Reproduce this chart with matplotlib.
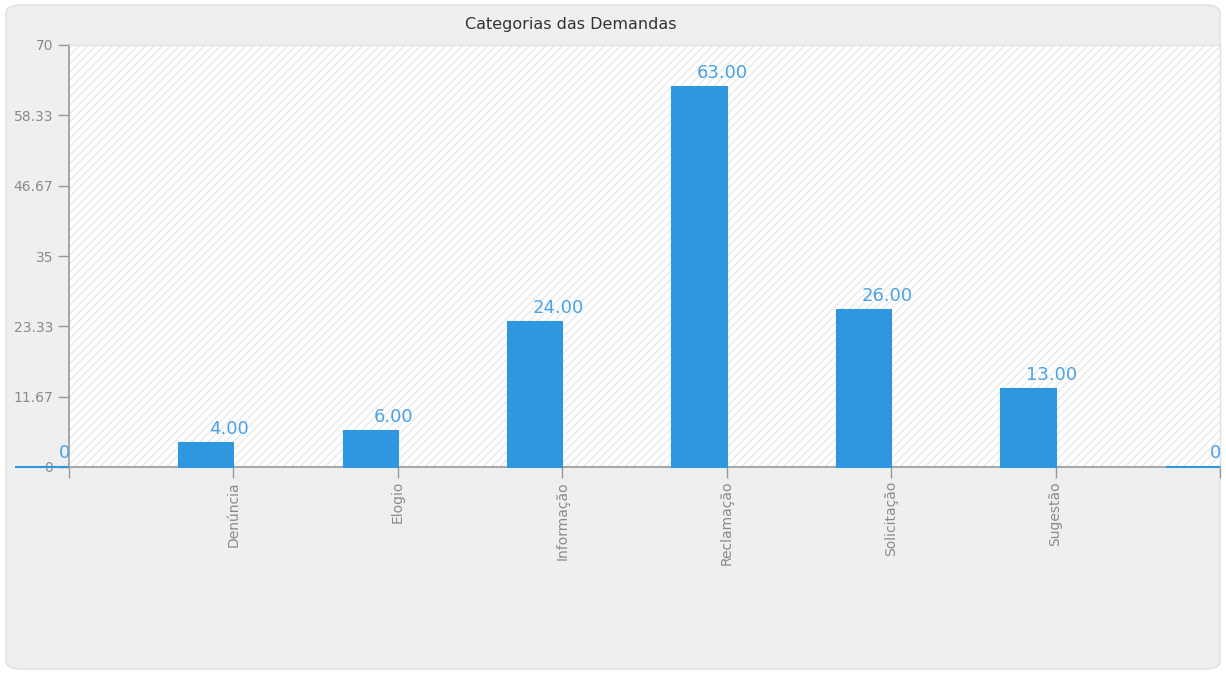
import matplotlib.pyplot as plt
from matplotlib.patches import FancyBboxPatch, Rectangle

# -------------------------------
# DATA
# -------------------------------
categories = ["", "Denúncia", "Elogio", "Informação", "Reclamação",
              "Solicitação", "Sugestão", ""]
values = [0, 4, 6, 24, 63, 26, 13, 0]
value_labels = ["0", "4.00", "6.00", "24.00", "63.00", "26.00", "13.00", "0"]

y_ticks = [0, 11.67, 23.33, 35, 46.67, 58.33, 70]
y_tick_labels = ["0", "11.67", "23.33", "35", "46.67", "58.33", "70"]

blue = "#2e97e0"
label_blue = "#4aa3e8"

# -------------------------------
# FIGURE
# -------------------------------
fig = plt.figure(figsize=(12.26, 6.73), dpi=100)

# rounded grey panel behind everything
panel = FancyBboxPatch((6/1226, 4/673), 1214/1226, 664/673,
                       boxstyle="round,pad=0,rounding_size=0.012",
                       transform=fig.transFigure, facecolor="#efefef",
                       edgecolor="#e2e2e2", linewidth=1.2, zorder=-10)
fig.patches.append(panel)

ax = fig.add_axes([69/1226, 206/673, 1151/1226, 422/673], zorder=5)
ax.set_facecolor("white")
# faint diagonal stripes in the plot area
ax.add_patch(Rectangle((0, 0), 1, 1, transform=ax.transAxes, facecolor="none",
                       edgecolor="#e9e9e9", hatch="////", linewidth=0, zorder=0))

x = list(range(len(categories)))
ax.bar(x, values, width=-0.33, align="edge", color=blue, edgecolor=blue,
       linewidth=1.5, clip_on=False, zorder=3)

for xi, v, lab in zip(x, values, value_labels):
    ax.text(xi - 0.025, v + 0.8, lab, ha="center", va="bottom",
            color=label_blue, fontsize=13, clip_on=False, zorder=4)

ax.set_xlim(0, 7)
ax.set_ylim(0, 70)

ax.set_yticks(y_ticks)
ax.set_yticklabels(y_tick_labels)
ax.set_xticks(x)
ax.set_xticklabels(categories, rotation=90, va="top")

ax.tick_params(axis="both", colors="#999999", labelcolor="#8a8a8a",
               labelsize=10, length=8, width=1, direction="out")
ax.tick_params(axis="x", pad=2)

for side in ["left", "bottom"]:
    ax.spines[side].set_color("#999999")
    ax.spines[side].set_linewidth(1.2)
for side in ["top", "right"]:
    ax.spines[side].set_color("#e0e0e0")
    ax.spines[side].set_linewidth(1)

fig.text(571/1226, 1 - 24/673, "Categorias das Demandas", ha="center",
         va="center", fontsize=11.5, color="#333333")

plt.savefig("out.png", dpi=100, facecolor="white")
